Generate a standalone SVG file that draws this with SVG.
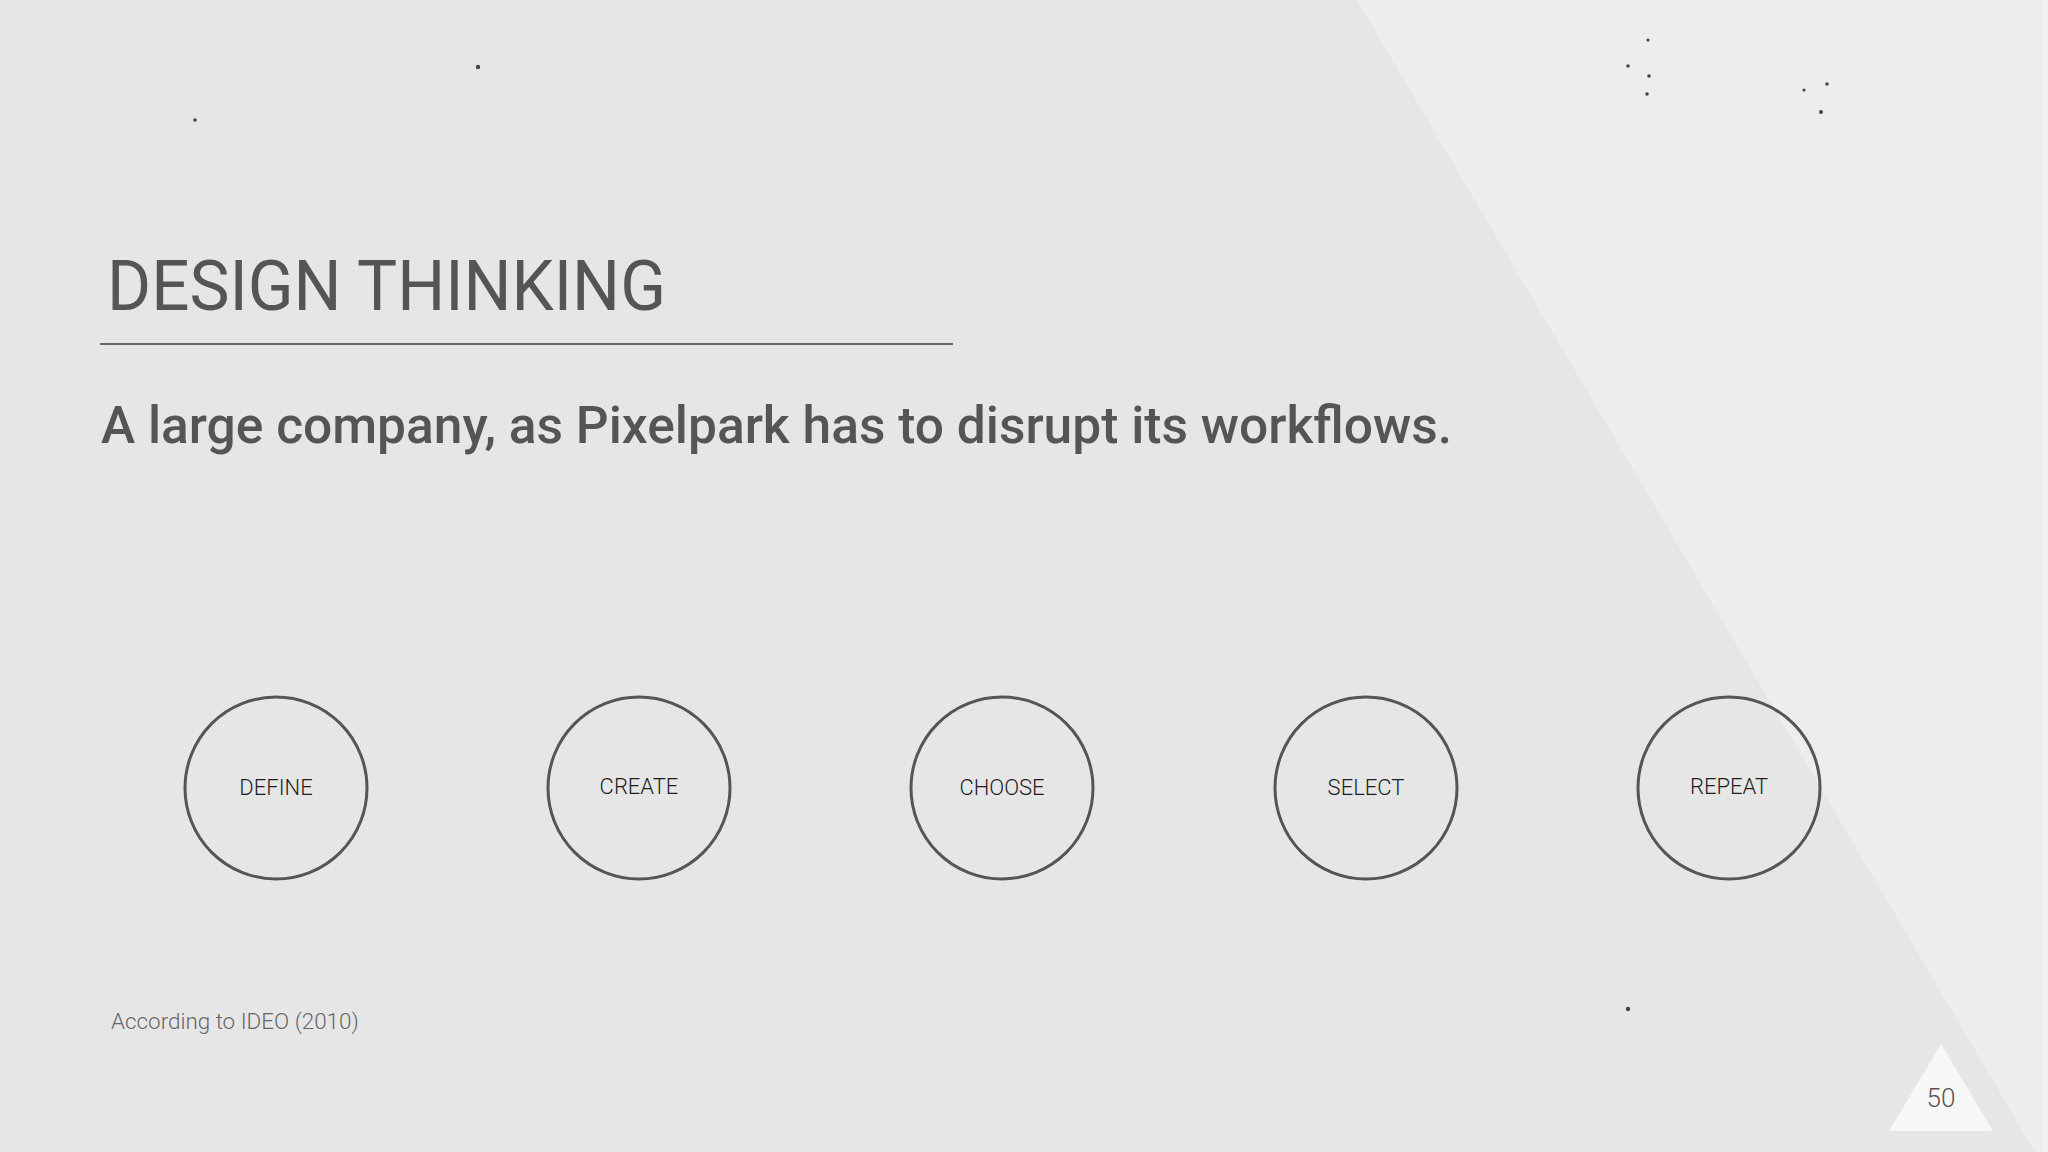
<svg xmlns="http://www.w3.org/2000/svg" width="2048" height="1152" viewBox="0 0 2048 1152">
  <style>
    .title { font-family: Roboto, "Liberation Sans", sans-serif; font-size: 70px; fill: #555555; }
    .sub { font-family: Roboto, "Liberation Sans", sans-serif; font-weight: 500; font-size: 51.5px; fill: #555555; }
    .node circle { fill: none; stroke: #555555; stroke-width: 3; }
    .node text { font-family: Roboto, "Liberation Sans", sans-serif; font-weight: 300; font-size: 22px; fill: #1e1e1e; text-anchor: middle; }
    .note { font-family: Roboto, "Liberation Sans", sans-serif; font-weight: 300; font-size: 22.4px; fill: #666666; }
    .page { font-family: Roboto, "Liberation Sans", sans-serif; font-weight: 300; font-size: 26px; fill: #555555; text-anchor: middle; }
    .speck { fill: #4a4340; }
  </style>
  <rect x="0" y="0" width="2048" height="1152" fill="#e7e6e6"/>
  <polygon points="1357,0 2048,0 2048,1152 2035,1152" fill="#ededed"/>
  <rect x="2042" y="0" width="6" height="1152" fill="#f2f2f2"/>
  <g id="specks">
    <circle class="speck" cx="478" cy="67" r="2.2"/>
    <circle class="speck" cx="195" cy="120" r="1.8"/>
    <circle class="speck" cx="1648" cy="40" r="1.6"/>
    <circle class="speck" cx="1628" cy="66" r="1.8"/>
    <circle class="speck" cx="1649" cy="76" r="1.8"/>
    <circle class="speck" cx="1647" cy="94" r="1.8"/>
    <circle class="speck" cx="1804" cy="90" r="1.6"/>
    <circle class="speck" cx="1827" cy="84" r="1.8"/>
    <circle class="speck" cx="1821" cy="112" r="2"/>
    <circle class="speck" cx="1628" cy="1009" r="2.2"/>
  </g>
  <g id="title">
    <text class="title" x="107" y="310" textLength="559" lengthAdjust="spacingAndGlyphs">DESIGN THINKING</text>
    <line x1="100" y1="344" x2="953" y2="344" stroke="#666666" stroke-width="2"/>
  </g>
  <g id="subtitle">
    <text class="sub" x="101" y="443">A large company, as Pixelpark has to disrupt its workflows.</text>
  </g>
  <g id="connectors"></g>
  <g id="node-define" class="node">
    <circle cx="276" cy="788" r="91"/>
    <text x="276" y="795">DEFINE</text>
  </g>
  <g id="node-create" class="node">
    <circle cx="639" cy="788" r="91"/>
    <text x="639" y="794">CREATE</text>
  </g>
  <g id="node-choose" class="node">
    <circle cx="1002" cy="788" r="91"/>
    <text x="1002" y="795">CHOOSE</text>
  </g>
  <g id="node-select" class="node">
    <circle cx="1366" cy="788" r="91"/>
    <text x="1366" y="795">SELECT</text>
  </g>
  <g id="node-repeat" class="node">
    <circle cx="1729" cy="788" r="91"/>
    <text x="1729" y="794">REPEAT</text>
  </g>
  <g id="footnote">
    <text class="note" x="111" y="1029">According to IDEO (2010)</text>
  </g>
  <g id="page-number">
    <polygon points="1941,1044 1993,1131 1889,1131" fill="#f7f7f7"/>
    <text class="page" x="1941" y="1107">50</text>
  </g>
</svg>
